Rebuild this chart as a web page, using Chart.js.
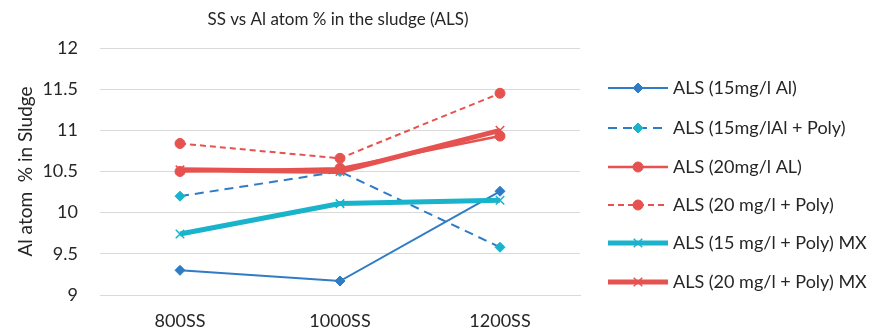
<!DOCTYPE html>
<html>
<head>
<meta charset="utf-8">
<script src="https://cdn.jsdelivr.net/npm/chart.js@4.4.0/dist/chart.umd.min.js"></script>
<style>
  html, body { margin: 0; padding: 0; background: #fff; }
  #wrap { width: 877px; height: 332px; }
</style>
</head>
<body>
<div id="wrap"><canvas id="grafico"></canvas></div>
<script>
// ---- DADOS ----
const categorias = ["800SS", "1000SS", "1200SS"];
const als15 = [9.30, 9.17, 10.26];
const als15Poly = [10.20, 10.50, 9.58];
const als20 = [10.50, 10.54, 10.93];
const als20Poly = [10.84, 10.66, 11.45];
const als15PolyMX = [9.74, 10.11, 10.15];
const als20PolyMX = [10.52, 10.50, 11.00];
const nomes = [
    "ALS (15mg/l Al)",
    "ALS (15mg/lAl + Poly)",
    "ALS (20mg/l AL)",
    "ALS (20 mg/l + Poly)",
    "ALS (15 mg/l + Poly) MX",
    "ALS (20 mg/l + Poly) MX"
];
const yTicks = [9, 9.5, 10, 10.5, 11, 11.5, 12];

const AZUL = "#2f7cc6";
const CIANO = "#1ab3cc";
const VERMELHO = "#e5524f";
const FONTE = "Lato, 'Open Sans', sans-serif";

function serie(i, dados, cor, pontoCor, estilo, raio, largura, traco) {
    return {
        label: nomes[i],
        data: dados,
        borderColor: cor,
        backgroundColor: pontoCor,
        pointBackgroundColor: pontoCor,
        pointBorderColor: pontoCor,
        pointStyle: estilo,
        pointRadius: raio,
        pointBorderWidth: estilo === "crossRot" ? 1.5 : 1,
        borderWidth: largura,
        borderDash: traco,
        tension: 0,
        fill: false,
        order: 6 - i
    };
}

const datasets = [
    serie(0, als15, AZUL, AZUL, "rectRot", 5, 2, []),
    serie(1, als15Poly, AZUL, CIANO, "rectRot", 5, 2, [9, 6]),
    serie(2, als20, VERMELHO, VERMELHO, "circle", 5, 2.5, []),
    serie(3, als20Poly, VERMELHO, VERMELHO, "circle", 5, 2, [6, 4]),
    serie(4, als15PolyMX, CIANO, CIANO, "crossRot", 6, 5, []),
    serie(5, als20PolyMX, VERMELHO, VERMELHO, "crossRot", 6, 5, [])
];

// ---- TITULO E LEGENDA ----
const extras = {
    id: "extras",
    afterDraw(chart) {
        const ctx = chart.ctx;
        const area = chart.chartArea;
        ctx.save();
        ctx.fillStyle = "#262626";
        ctx.font = "17px " + FONTE;
        ctx.textAlign = "center";
        ctx.textBaseline = "middle";
        ctx.fillText("SS vs Al atom % in the sludge (ALS)", (area.left + area.right) / 2 - 2, 20);

        const linhaX0 = 608, linhaX1 = 668;
        const ys = [88, 128, 167, 205, 243, 282];
        chart.data.datasets.forEach((ds, i) => {
            const y = ys[i];
            ctx.save();
            ctx.strokeStyle = ds.borderColor;
            ctx.lineWidth = ds.borderWidth;
            ctx.setLineDash(ds.borderDash || []);
            ctx.beginPath();
            ctx.moveTo(linhaX0, y);
            ctx.lineTo(linhaX1, y);
            ctx.stroke();
            ctx.setLineDash([]);
            ctx.fillStyle = ds.pointBackgroundColor;
            ctx.strokeStyle = ds.pointBorderColor;
            ctx.lineWidth = ds.pointBorderWidth;
            Chart.helpers.drawPoint(ctx, {
                pointStyle: ds.pointStyle,
                radius: ds.pointRadius,
                borderWidth: ds.pointBorderWidth,
                rotation: 0
            }, (linhaX0 + linhaX1) / 2, y);
            ctx.restore();

            ctx.fillStyle = "#262626";
            ctx.font = "18px " + FONTE;
            ctx.textAlign = "left";
            ctx.fillText(ds.label, 673, y);
        });
        ctx.restore();
    }
};

const ctx = document.getElementById("grafico").getContext("2d");
new Chart(ctx, {
    type: "line",
    data: { labels: categorias, datasets: datasets },
    plugins: [extras],
    options: {
        responsive: true,
        maintainAspectRatio: false,
        animation: false,
        events: [],
        layout: { padding: { top: 48, right: 297, left: 0, bottom: 0 } },
        plugins: {
            legend: { display: false },
            title: { display: false },
            tooltip: { enabled: false }
        },
        scales: {
            x: {
                offset: true,
                grid: { display: false },
                border: { display: true, color: "#d9d9d9", width: 1 },
                ticks: { color: "#262626", font: { family: FONTE, size: 18 }, padding: 7 },
                afterFit: s => { s.height = 332 - 295; }
            },
            y: {
                min: 9,
                max: 12,
                afterBuildTicks: s => { s.ticks = yTicks.map(v => ({ value: v })); },
                grid: { color: "#d9d9d9", lineWidth: 1, drawTicks: false },
                border: { display: false },
                ticks: {
                    color: "#262626",
                    font: { family: FONTE, size: 18 },
                    padding: 22,
                    callback: v => String(v)
                },
                title: {
                    display: true,
                    text: "Al atom  % in Sludge",
                    color: "#262626",
                    font: { family: FONTE, size: 19 },
                    padding: { top: 14, bottom: 0 }
                },
                afterFit: s => { s.width = 100; }
            }
        }
    }
});
</script>
</body>
</html>
